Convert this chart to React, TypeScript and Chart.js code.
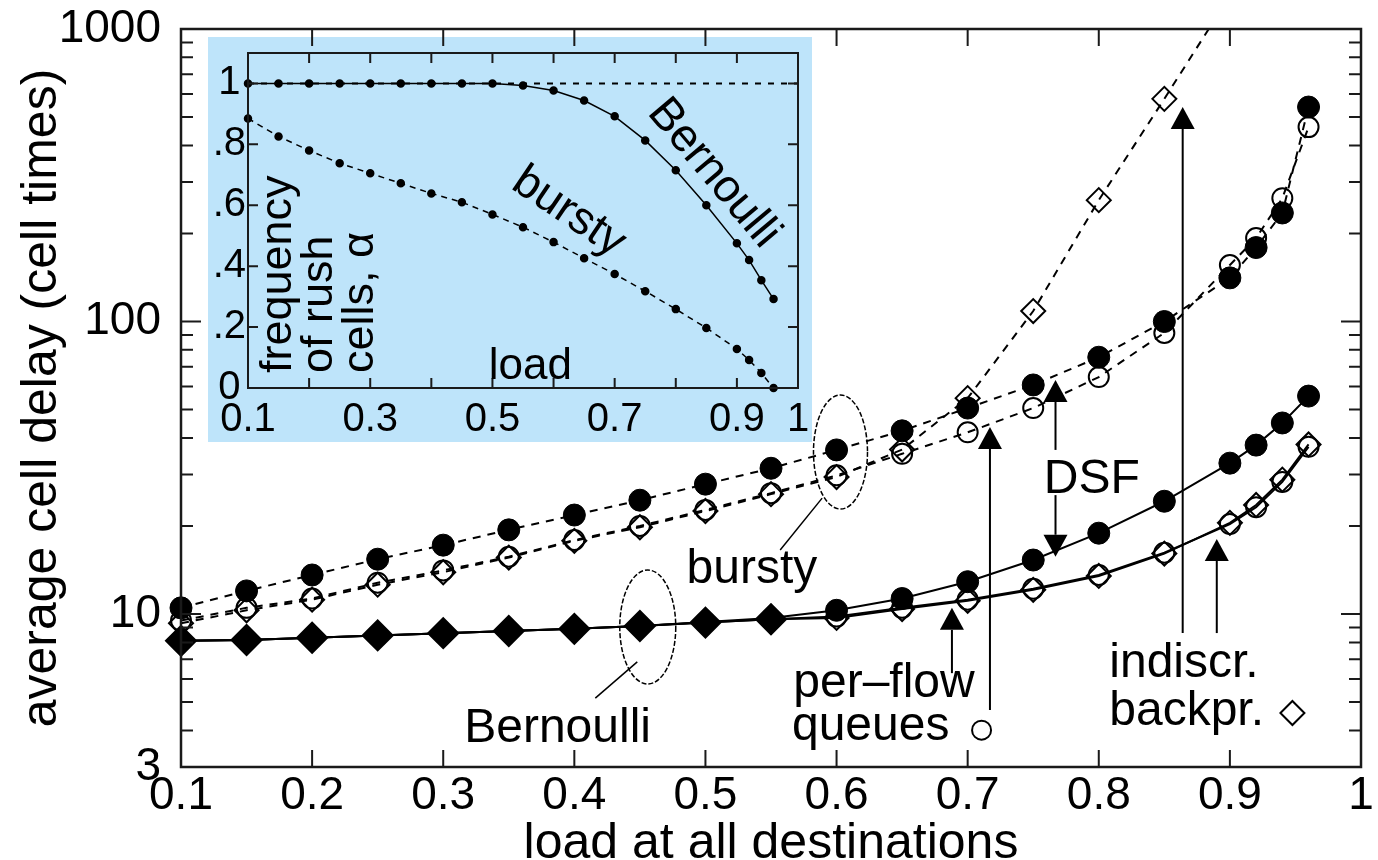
import React, { useEffect, useRef } from "react";
import { Chart, registerables } from "chart.js";

Chart.register(...registerables);

const FONT = '"Liberation Sans", Arial, Helvetica, sans-serif';
const font = (s: number) => `${s}px ${FONT}`;

// ---------------- main chart data ----------------
const loads = [0.1, 0.15, 0.2, 0.25, 0.3, 0.35, 0.4, 0.45, 0.5, 0.55, 0.6, 0.65, 0.7, 0.75, 0.8, 0.85, 0.9, 0.92, 0.94, 0.96];

const bernoulliDSF = [8.1, 8.15, 8.3, 8.45, 8.6, 8.75, 8.9, 9.1, 9.4, 9.7, 10.3, 11.3, 12.9, 15.3, 18.9, 24.3, 32.8, 37.8, 45, 55.6];
const bernoulliPerFlow = [8.1, 8.15, 8.3, 8.45, 8.6, 8.75, 8.9, 9.1, 9.35, 9.6, 9.8, 10.5, 11.2, 12.2, 13.6, 16.2, 20.3, 23.2, 28.3, 37.3];
const bernoulliBackpr = [8.1, 8.15, 8.3, 8.45, 8.6, 8.75, 8.9, 9.1, 9.35, 9.6, 9.7, 10.4, 11.1, 12.1, 13.5, 16.1, 20.5, 23.6, 28.8, 38.0];

const burstyDSF = [10.5, 12.0, 13.6, 15.4, 17.2, 19.4, 21.8, 24.5, 27.8, 31.5, 36.4, 42.3, 50.6, 60.7, 75.5, 100, 141, 179, 235, 541];
const burstyPerFlow = [9.5, 10.5, 11.3, 12.8, 14.1, 15.7, 17.9, 20.0, 22.7, 25.9, 29.8, 35.3, 41.8, 50.6, 64.6, 91.4, 156, 193, 264, 462];
const burstyBackpr = [9.3, 10.3, 11.2, 12.6, 13.9, 15.6, 17.8, 19.8, 22.5, 25.7, 29.4, 36.5, 54.7, 108.6, 260, 577, 1300, null, null, null];

const xTickValues = [0.1, 0.2, 0.3, 0.4, 0.5, 0.6, 0.7, 0.8, 0.9, 1.0];
const xTickLabels = ["0.1", "0.2", "0.3", "0.4", "0.5", "0.6", "0.7", "0.8", "0.9", "1"];
const yTickValues = [3, 10, 100, 1000];
const yTickLabels = ["3", "10", "100", "1000"];
const yMajorTicks = [10, 100];
const yMinorTicks = [4, 5, 6, 7, 8, 9, 20, 30, 40, 50, 60, 70, 80, 90, 200, 300, 400, 500, 600, 700, 800, 900];

// annotations (data coordinates)
const annotationTexts = [
  { text: "Bernoulli", x: 0.316, y: 3.65 },
  { text: "bursty", x: 0.4856, y: 12.8 },
  { text: "per\u2013flow", x: 0.567, y: 5.2 },
  { text: "queues", x: 0.566, y: 3.71 },
  { text: "DSF", x: 0.758, y: 25.9 },
  { text: "indiscr.", x: 0.808, y: 6.09 },
  { text: "backpr.", x: 0.808, y: 4.17 },
];
const arrows = [
  { x: 0.688, from: 6.28, to: 10.5 },
  { x: 0.717, from: 4.7, to: 43.6 },
  { x: 0.767, from: 36.4, to: 63.1 },
  { x: 0.767, from: 25.5, to: 15.7 },
  { x: 0.864, from: 8.61, to: 541 },
  { x: 0.89, from: 8.61, to: 18.05 },
];
const ellipses = [
  { x: 0.603, y: 35.8, rx: 27, ry: 57 },
  { x: 0.456, y: 9.03, rx: 28, ry: 57 },
];
const leaders = [
  { x1: 0.589, y1: 24.9, x2: 0.557, y2: 16.55 },
  { x1: 0.448, y1: 6.86, x2: 0.416, y2: 5.16 },
];
const circleSymbol = { x: 0.7106, y: 4.01 };
const diamondSymbol = { x: 0.9477, y: 4.59 };

// ---------------- inset data ----------------
const insetLoads = [0.1, 0.15, 0.2, 0.25, 0.3, 0.35, 0.4, 0.45, 0.5, 0.55, 0.6, 0.65, 0.7, 0.75, 0.8, 0.85, 0.9, 0.92, 0.94, 0.96];
const alphaBernoulli = [1, 1, 1, 1, 1, 1, 1, 1, 1, 0.993, 0.977, 0.944, 0.892, 0.813, 0.715, 0.6, 0.475, 0.42, 0.354, 0.292];
const alphaBursty = [0.885, 0.826, 0.78, 0.738, 0.705, 0.672, 0.639, 0.61, 0.57, 0.528, 0.479, 0.426, 0.374, 0.318, 0.259, 0.197, 0.128, 0.092, 0.049, 0.0];
const referenceLoads = [0.1, 1.0];
const referenceAlpha = [1, 1];
const insetXTicks = [0.1, 0.2, 0.3, 0.4, 0.5, 0.6, 0.7, 0.8, 0.9, 1.0];
const insetXLabels = ["0.1", "", "0.3", "", "0.5", "", "0.7", "", "0.9", "1"];
const insetYTicks = [0, 0.2, 0.4, 0.6, 0.8, 1];
const insetYLabels = ["0", ".2", ".4", ".6", ".8", "1"];
const insetTitleLines = [
  { text: "frequency", x: 0.17 },
  { text: "of rush", x: 0.238 },
  { text: "cells, \u03b1", x: 0.305 },
];

const toPoints = (xs: number[], ys: (number | null)[]) =>
  xs.map((x, i) => ({ x, y: ys[i] })).filter((p) => p.y != null);

const TRANSPARENT = "rgba(0,0,0,0)";

function drawArrow(ctx: CanvasRenderingContext2D, x: number, yTail: number, yTip: number) {
  const headW = 24;
  const headL = 22;
  const dir = yTip < yTail ? -1 : 1;
  const baseY = yTip - dir * headL;
  ctx.beginPath();
  ctx.moveTo(x, yTail);
  ctx.lineTo(x, baseY);
  ctx.stroke();
  ctx.beginPath();
  ctx.moveTo(x, yTip);
  ctx.lineTo(x - headW / 2, baseY);
  ctx.lineTo(x + headW / 2, baseY);
  ctx.closePath();
  ctx.fill();
}

const mainDecor = {
  id: "mainDecor",
  afterDatasetsDraw(chart: any) {
    const { ctx, scales } = chart;
    const px = (v: number) => scales.x.getPixelForValue(v);
    const py = (v: number) => scales.y.getPixelForValue(v);
    ctx.save();
    ctx.strokeStyle = "#000";
    ctx.fillStyle = "#000";
    ctx.lineWidth = 1.5;
    ctx.setLineDash([5, 2]);
    for (const e of ellipses) {
      ctx.beginPath();
      ctx.ellipse(px(e.x), py(e.y), e.rx, e.ry, 0, 0, Math.PI * 2);
      ctx.stroke();
    }
    ctx.setLineDash([]);
    for (const l of leaders) {
      ctx.beginPath();
      ctx.moveTo(px(l.x1), py(l.y1));
      ctx.lineTo(px(l.x2), py(l.y2));
      ctx.stroke();
    }
    ctx.lineWidth = 2;
    for (const a of arrows) drawArrow(ctx, px(a.x), py(a.from), py(a.to));
    ctx.font = font(48);
    ctx.textAlign = "left";
    ctx.textBaseline = "alphabetic";
    for (const t of annotationTexts) ctx.fillText(t.text, px(t.x), py(t.y));
    // symbols
    ctx.lineWidth = 2;
    ctx.beginPath();
    ctx.arc(px(circleSymbol.x), py(circleSymbol.y), 9.5, 0, Math.PI * 2);
    ctx.stroke();
    const dx = px(diamondSymbol.x);
    const dy = py(diamondSymbol.y);
    ctx.beginPath();
    ctx.moveTo(dx, dy - 12);
    ctx.lineTo(dx + 12, dy);
    ctx.lineTo(dx, dy + 12);
    ctx.lineTo(dx - 12, dy);
    ctx.closePath();
    ctx.stroke();
    ctx.restore();
  },
  afterDraw(chart: any) {
    const { ctx, chartArea, scales } = chart;
    const { left, right, top, bottom } = chartArea;
    ctx.save();
    ctx.strokeStyle = "#1a1a1a";
    ctx.lineWidth = 2;
    ctx.beginPath();
    for (const v of xTickValues) {
      const x = scales.x.getPixelForValue(v);
      ctx.moveTo(x, bottom);
      ctx.lineTo(x, bottom - 17);
      ctx.moveTo(x, top);
      ctx.lineTo(x, top + 17);
    }
    for (const v of yMajorTicks) {
      const y = scales.y.getPixelForValue(v);
      ctx.moveTo(left, y);
      ctx.lineTo(left + 20, y);
      ctx.moveTo(right, y);
      ctx.lineTo(right - 20, y);
    }
    for (const v of yMinorTicks) {
      const y = scales.y.getPixelForValue(v);
      ctx.moveTo(left, y);
      ctx.lineTo(left + 12, y);
      ctx.moveTo(right, y);
      ctx.lineTo(right - 12, y);
    }
    ctx.stroke();
    ctx.lineWidth = 2.5;
    ctx.strokeRect(left, top, right - left, bottom - top);
    // axis titles
    ctx.fillStyle = "#000";
    ctx.font = font(50);
    ctx.textAlign = "center";
    ctx.textBaseline = "alphabetic";
    ctx.fillText("load at all destinations", (left + right) / 2, chart.height - 2);
    ctx.translate(56, (top + bottom) / 2);
    ctx.rotate(-Math.PI / 2);
    ctx.fillText("average cell delay (cell times)", 0, 0);
    ctx.restore();
  },
};

const insetDecor = {
  id: "insetDecor",
  afterDraw(chart: any) {
    const { ctx, chartArea, scales } = chart;
    const { left, right, top, bottom } = chartArea;
    const px = (v: number) => scales.x.getPixelForValue(v);
    const py = (v: number) => scales.y.getPixelForValue(v);
    ctx.save();
    ctx.strokeStyle = "#1a1a1a";
    ctx.lineWidth = 2;
    ctx.beginPath();
    for (const v of insetXTicks) {
      const x = px(v);
      ctx.moveTo(x, bottom);
      ctx.lineTo(x, bottom - 10);
      ctx.moveTo(x, top);
      ctx.lineTo(x, top + 10);
    }
    for (const v of insetYTicks) {
      const y = py(v);
      ctx.moveTo(left, y);
      ctx.lineTo(left + 10, y);
      ctx.moveTo(right, y);
      ctx.lineTo(right - 10, y);
    }
    ctx.stroke();
    ctx.strokeRect(left, top, right - left, bottom - top);
    ctx.fillStyle = "#000";
    ctx.textBaseline = "alphabetic";
    // y title (three rotated lines)
    ctx.font = font(45);
    ctx.textAlign = "left";
    for (const l of insetTitleLines) {
      ctx.save();
      ctx.translate(px(l.x), py(0.049));
      ctx.rotate(-Math.PI / 2);
      ctx.fillText(l.text, 0, 0);
      ctx.restore();
    }
    // x title inside
    ctx.font = font(44);
    ctx.textAlign = "center";
    ctx.fillText("load", px(0.562), py(0.03));
    // rotated curve labels
    ctx.font = font(46);
    ctx.textBaseline = "middle";
    ctx.save();
    ctx.translate(px(0.862), py(0.705));
    ctx.rotate((50 * Math.PI) / 180);
    ctx.fillText("Bernoulli", 0, 0);
    ctx.restore();
    ctx.save();
    ctx.translate(px(0.625), py(0.577));
    ctx.rotate((34 * Math.PI) / 180);
    ctx.fillText("bursty", 0, 0);
    ctx.restore();
    ctx.restore();
  },
};

export default function App() {
  const mainRef = useRef<HTMLCanvasElement>(null);
  const insetRef = useRef<HTMLCanvasElement>(null);

  useEffect(() => {
    const solid = { borderColor: "#000", borderWidth: 2, tension: 0, clip: false as any };
    const dashed = { ...solid, borderDash: [8, 7] };
    const filledCircle = { pointStyle: "circle", pointRadius: 11, pointBackgroundColor: "#000", pointBorderColor: "#000", pointBorderWidth: 1 };
    const openCircle = { pointStyle: "circle", pointRadius: 10, pointBackgroundColor: TRANSPARENT, pointBorderColor: "#000", pointBorderWidth: 2 };
    const openDiamond = { pointStyle: "rectRot", pointRadius: 12, pointBackgroundColor: TRANSPARENT, pointBorderColor: "#000", pointBorderWidth: 2 };

    const main = new Chart(mainRef.current as HTMLCanvasElement, {
      type: "line",
      data: {
        datasets: [
          {
            label: "Bernoulli DSF",
            data: toPoints(loads, bernoulliDSF),
            ...solid,
            ...filledCircle,
            pointRadius: (c: any) => (c.raw && c.raw.x <= 0.55 ? 10 : 11),
          },
          {
            label: "Bernoulli indiscr. backpr.",
            data: toPoints(loads, bernoulliBackpr),
            ...solid,
            ...openDiamond,
            pointRadius: (c: any) => (c.raw && c.raw.x <= 0.55 ? 15 : 12),
            pointBackgroundColor: (c: any) => (c.raw && c.raw.x <= 0.55 ? "#000" : TRANSPARENT),
          },
          { label: "Bernoulli per-flow queues", data: toPoints(loads, bernoulliPerFlow), ...solid, ...openCircle },
          { label: "bursty DSF", data: toPoints(loads, burstyDSF), ...dashed, ...filledCircle },
          { label: "bursty per-flow queues", data: toPoints(loads, burstyPerFlow), ...dashed, ...openCircle },
          {
            label: "bursty indiscr. backpr.",
            data: toPoints(loads, burstyBackpr),
            ...dashed,
            ...openDiamond,
            clip: { left: 30, right: 30, top: 0, bottom: 30 } as any,
          },
        ] as any,
      },
      options: {
        animation: false,
        responsive: false,
        maintainAspectRatio: false,
        layout: { padding: { left: 0, right: 9, top: 29, bottom: 0 } },
        plugins: { legend: { display: false }, tooltip: { enabled: false } },
        scales: {
          x: {
            type: "linear",
            min: 0.1,
            max: 1,
            grid: { display: false, drawTicks: false },
            border: { display: false },
            afterBuildTicks: (s: any) => {
              s.ticks = xTickValues.map((v) => ({ value: v }));
            },
            afterFit: (s: any) => {
              s.height = 93;
              s.paddingLeft = 0;
              s.paddingRight = 0;
            },
            ticks: {
              callback: (_v: any, i: number) => xTickLabels[i],
              font: { size: 46, family: FONT, lineHeight: 1 },
              color: "#000",
              padding: 6,
              maxRotation: 0,
              autoSkip: false,
            },
          },
          y: {
            type: "logarithmic",
            min: 3,
            max: 1000,
            grid: { display: false, drawTicks: false },
            border: { display: false },
            afterBuildTicks: (s: any) => {
              s.ticks = yTickValues.map((v) => ({ value: v }));
            },
            afterFit: (s: any) => {
              s.width = 181;
              s.paddingTop = 0;
              s.paddingBottom = 0;
            },
            ticks: {
              callback: (_v: any, i: number) => yTickLabels[i],
              font: { size: 46, family: FONT, lineHeight: 1 },
              color: "#000",
              padding: 20,
              autoSkip: false,
            },
          },
        },
      } as any,
      plugins: [mainDecor],
    });

    const inset = new Chart(insetRef.current as HTMLCanvasElement, {
      type: "line",
      data: {
        datasets: [
          {
            label: "Bernoulli",
            data: toPoints(insetLoads, alphaBernoulli),
            borderColor: "#000",
            borderWidth: 1.5,
            pointRadius: 3.5,
            pointBackgroundColor: "#000",
            pointBorderColor: "#000",
            clip: false,
          },
          {
            label: "bursty",
            data: toPoints(insetLoads, alphaBursty),
            borderColor: "#000",
            borderWidth: 1.5,
            borderDash: [6, 5],
            pointRadius: 3.5,
            pointBackgroundColor: "#000",
            pointBorderColor: "#000",
            clip: false,
          },
          {
            label: "alpha = 1",
            data: toPoints(referenceLoads, referenceAlpha),
            borderColor: "#000",
            borderWidth: 2,
            borderDash: [6, 7],
            pointRadius: 0,
            clip: false,
          },
        ] as any,
      },
      options: {
        animation: false,
        responsive: false,
        maintainAspectRatio: false,
        layout: { padding: { left: 0, right: 14, top: 16, bottom: 0 } },
        plugins: { legend: { display: false }, tooltip: { enabled: false } },
        scales: {
          x: {
            type: "linear",
            min: 0.1,
            max: 1,
            grid: { display: false, drawTicks: false },
            border: { display: false },
            afterBuildTicks: (s: any) => {
              s.ticks = insetXTicks.map((v) => ({ value: v }));
            },
            afterFit: (s: any) => {
              s.height = 54;
              s.paddingLeft = 0;
              s.paddingRight = 0;
            },
            ticks: {
              callback: (_v: any, i: number) => insetXLabels[i],
              font: { size: 40, family: FONT, lineHeight: 1 },
              color: "#000",
              padding: 12,
              maxRotation: 0,
              autoSkip: false,
            },
          },
          y: {
            type: "linear",
            min: 0,
            max: 1.1,
            grid: { display: false, drawTicks: false },
            border: { display: false },
            afterBuildTicks: (s: any) => {
              s.ticks = insetYTicks.map((v) => ({ value: v }));
            },
            afterFit: (s: any) => {
              s.width = 40;
              s.paddingTop = 0;
              s.paddingBottom = 0;
            },
            ticks: {
              callback: (_v: any, i: number) => insetYLabels[i],
              font: { size: 40, family: FONT, lineHeight: 1 },
              color: "#000",
              padding: 2,
              crossAlign: "center",
              autoSkip: false,
            },
          },
        },
      } as any,
      plugins: [insetDecor],
    });

    return () => {
      main.destroy();
      inset.destroy();
    };
  }, []);

  return (
    <div style={{ position: "absolute", left: 0, top: 0, width: 1378, height: 860, background: "#fff", overflow: "hidden" }}>
      <canvas
        ref={insetRef}
        width={604}
        height={405}
        style={{ position: "absolute", left: 208, top: 37, width: 604, height: 405, background: "rgb(190,228,250)", zIndex: 1 }}
      />
      <canvas
        ref={mainRef}
        width={1378}
        height={860}
        style={{ position: "absolute", left: 0, top: 0, width: 1378, height: 860, zIndex: 2 }}
      />
    </div>
  );
}
